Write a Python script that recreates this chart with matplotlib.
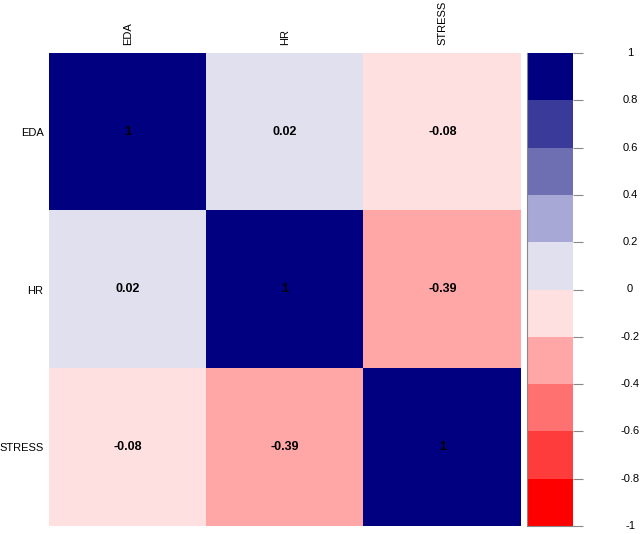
import numpy as np
import matplotlib
matplotlib.use('Agg')
import matplotlib.pyplot as plt
from matplotlib.colors import ListedColormap, BoundaryNorm

plt.rcParams['font.family'] = ['Liberation Sans', 'DejaVu Sans']

# Correlation matrix
variables = ['EDA', 'HR', 'STRESS']
corr_values = np.array([
    [1.00, 0.02, -0.08],
    [0.02, 1.00, -0.39],
    [-0.08, -0.39, 1.00],
])
value_labels = [
    ['1', '0.02', '-0.08'],
    ['0.02', '1', '-0.39'],
    ['-0.08', '-0.39', '1'],
]

# Colour steps from -1 to 1
color_bounds = [-1, -0.8, -0.6, -0.4, -0.2, 0, 0.2, 0.4, 0.6, 0.8, 1]
step_colors = ['#FF0000', '#FF3C3C', '#FF7070', '#FFA6A6', '#FFE0E0',
               '#E0E0EE', '#A8A8D6', '#6E6EB2', '#3A3A9A', '#000080']
cbar_ticks = [1, 0.8, 0.6, 0.4, 0.2, 0, -0.2, -0.4, -0.6, -0.8, -1]
cbar_labels = ['1', '0.8', '0.6', '0.4', '0.2', '0', '-0.2', '-0.4', '-0.6', '-0.8', '-1']

cmap = ListedColormap(step_colors)
norm = BoundaryNorm(color_bounds, cmap.N)

W, H = 640, 534
fig = plt.figure(figsize=(6.4, 5.34), dpi=100)

# Heatmap area (pixel coordinates converted to fractions)
x0, x1, y0, y1 = 49, 521, 53, 526
ax = fig.add_axes([x0 / W, (H - y1) / H, (x1 - x0) / W, (y1 - y0) / H])
ax.imshow(corr_values, cmap=cmap, norm=norm, aspect='auto',
          extent=(0, 3, 3, 0), interpolation='nearest')
for i in range(len(variables)):
    for j in range(len(variables)):
        ax.text(j + 0.5, i + 0.5, value_labels[i][j], ha='center', va='center',
                fontsize=9, fontweight='bold', color='black')
ax.set_xlim(0, 3)
ax.set_ylim(3, 0)
ax.set_xticks([0.5, 1.5, 2.5])
ax.set_yticks([0.5, 1.5, 2.5])
ax.set_xticklabels(variables, rotation=90, fontsize=8)
ax.set_yticklabels(variables, fontsize=8)
ax.xaxis.tick_top()
ax.tick_params(axis='y', length=0, pad=4)
ax.tick_params(axis='x', length=0, pad=6)
for s in ax.spines.values():
    s.set_visible(False)

# Colour legend
cx0, cx1 = 527, 573
cax = fig.add_axes([cx0 / W, (H - y1) / H, (cx1 - cx0) / W, (y1 - y0) / H])
for k in range(len(step_colors)):
    cax.axhspan(color_bounds[k], color_bounds[k + 1], color=step_colors[k], lw=0)
cax.set_xlim(0, 1)
cax.set_ylim(-1, 1)
cax.set_xticks([])
cax.set_yticks(cbar_ticks)
cax.set_yticklabels([])
cax.yaxis.tick_right()
cax.tick_params(axis='y', length=7, width=0.8, color='#888888')
for side in ['top', 'right']:
    cax.spines[side].set_visible(False)
for side in ['left', 'bottom']:
    cax.spines[side].set_color('#888888')
    cax.spines[side].set_linewidth(0.8)
label_x = (630 - cx0) / (cx1 - cx0)
for t, lab in zip(cbar_ticks, cbar_labels):
    cax.text(label_x, t, lab, transform=cax.get_yaxis_transform(), ha='center',
             va='center', fontsize=8, color='black')

fig.savefig('out.png', dpi=100)
